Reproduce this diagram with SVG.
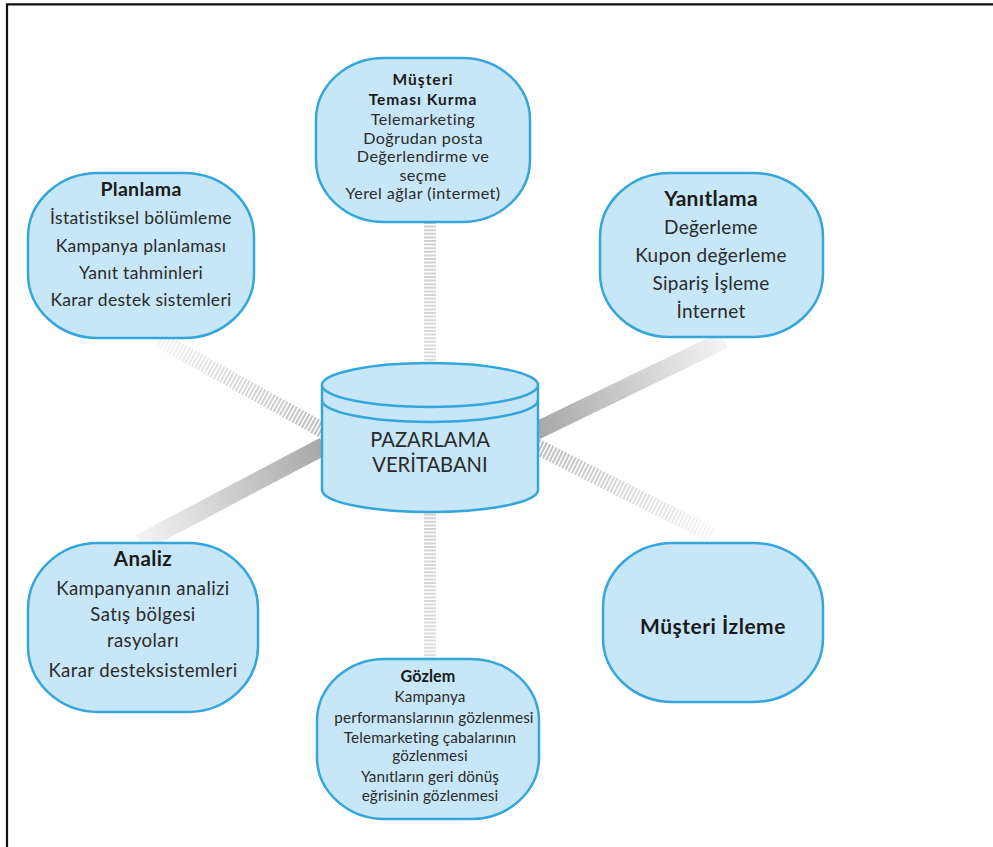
<svg xmlns="http://www.w3.org/2000/svg" width="993" height="847" viewBox="0 0 993 847">
  <style>
    .box { fill: #c7e7f8; stroke: #35a6dc; stroke-width: 2.5; }
    .t { font-family: Lato, "Open Sans", "Liberation Sans", sans-serif; fill: #2a2a2a; text-anchor: middle; }
    .h { font-weight: bold; fill: #1a1a1a; }
    .hatch { fill: none; stroke-dasharray: 2 1.6; }
    .solid { fill: none; }
  </style>
  <defs>
    <linearGradient id="gPlan" gradientUnits="userSpaceOnUse" x1="160" y1="340" x2="322" y2="430">
      <stop offset="0" stop-color="#f4f4f4"/>
      <stop offset="1" stop-color="#bdbdbd"/>
    </linearGradient>
    <linearGradient id="gAnaliz" gradientUnits="userSpaceOnUse" x1="140" y1="543" x2="322" y2="447">
      <stop offset="0" stop-color="#f4f4f4"/>
      <stop offset="1" stop-color="#a8a8a8"/>
    </linearGradient>
    <linearGradient id="gYanit" gradientUnits="userSpaceOnUse" x1="538" y1="430" x2="724" y2="340">
      <stop offset="0" stop-color="#a8a8a8"/>
      <stop offset="1" stop-color="#f4f4f4"/>
    </linearGradient>
    <linearGradient id="gIzleme" gradientUnits="userSpaceOnUse" x1="538" y1="447" x2="712" y2="535">
      <stop offset="0" stop-color="#bdbdbd"/>
      <stop offset="1" stop-color="#f6f6f6"/>
    </linearGradient>
    <linearGradient id="gTop" gradientUnits="userSpaceOnUse" x1="430" y1="222" x2="430" y2="363">
      <stop offset="0" stop-color="#cdcdcd"/>
      <stop offset="1" stop-color="#dcdcdc"/>
    </linearGradient>
    <linearGradient id="gBottom" gradientUnits="userSpaceOnUse" x1="430" y1="513" x2="430" y2="660">
      <stop offset="0" stop-color="#d0d0d0"/>
      <stop offset="1" stop-color="#dedede"/>
    </linearGradient>
  </defs>

  <rect width="993" height="847" fill="#ffffff"/>
  <!-- page frame -->
  <path d="M7 847 V4.3 H993" fill="none" stroke="#111" stroke-width="2.2"/>

  <!-- connectors: shaded bars from the database to each activity -->
  <g id="connectors">
    <line class="hatch" x1="430" y1="222" x2="430" y2="366" stroke="url(#gTop)" stroke-width="12"/>
    <line class="hatch" x1="160" y1="340" x2="324" y2="431" stroke="url(#gPlan)" stroke-width="16"/>
    <line class="solid" x1="140" y1="543" x2="324" y2="446" stroke="url(#gAnaliz)" stroke-width="18"/>
    <line class="solid" x1="536" y1="431" x2="724" y2="340" stroke="url(#gYanit)" stroke-width="18"/>
    <line class="hatch" x1="536" y1="446" x2="712" y2="535" stroke="url(#gIzleme)" stroke-width="16"/>
    <line class="hatch" x1="430" y1="510" x2="430" y2="660" stroke="url(#gBottom)" stroke-width="12"/>
  </g>

  <!-- central database cylinder -->
  <g id="veritabani">
    <path class="box" d="M322 385 V490 A108 22 0 0 0 538 490 V385"/>
    <ellipse class="box" cx="430" cy="385" rx="108" ry="22"/>
    <path d="M322 400 A108 22 0 0 0 538 400" fill="none" stroke="#35a6dc" stroke-width="2.5"/>
    <text class="t" x="430" y="447" font-size="20.2">PAZARLAMA</text>
    <text class="t" x="430" y="472" font-size="20.2">VERİTABANI</text>
  </g>

  <g id="musteri-temasi">
    <rect class="box" x="316" y="58" width="214" height="164" rx="68" ry="62"/>
    <g letter-spacing="0.4">
      <text class="t h" x="423" y="85" font-size="15.5" letter-spacing="1">Müşteri</text>
      <text class="t h" x="423" y="104.5" font-size="15.5" letter-spacing="1">Teması Kurma</text>
      <text class="t" x="423" y="125" font-size="16.2">Telemarketing</text>
      <text class="t" x="423" y="144" font-size="16.2">Doğrudan posta</text>
      <text class="t" x="423" y="162" font-size="16.2">Değerlendirme ve</text>
      <text class="t" x="423" y="181" font-size="16.2">seçme</text>
      <text class="t" x="423" y="199" font-size="16.2">Yerel ağlar (intermet)</text>
    </g>
  </g>

  <g id="planlama">
    <rect class="box" x="28" y="173" width="226" height="165" rx="70" ry="64"/>
    <g letter-spacing="0.3">
      <text class="t h" x="141" y="196" font-size="19.5">Planlama</text>
      <text class="t" x="141" y="224" font-size="17.5">İstatistiksel bölümleme</text>
      <text class="t" x="141" y="252" font-size="17.5">Kampanya planlaması</text>
      <text class="t" x="141" y="279" font-size="17.5">Yanıt tahminleri</text>
      <text class="t" x="141" y="306" font-size="17.5">Karar destek sistemleri</text>
    </g>
  </g>

  <g id="yanitlama">
    <rect class="box" x="600" y="173" width="223" height="164" rx="70" ry="64"/>
    <g letter-spacing="0.3">
      <text class="t h" x="711" y="206" font-size="21">Yanıtlama</text>
      <text class="t" x="711" y="234" font-size="19">Değerleme</text>
      <text class="t" x="711" y="262" font-size="19">Kupon değerleme</text>
      <text class="t" x="711" y="290" font-size="19">Sipariş İşleme</text>
      <text class="t" x="711" y="318" font-size="19">İnternet</text>
    </g>
  </g>

  <g id="analiz">
    <rect class="box" x="28" y="543" width="230" height="169" rx="70" ry="66"/>
    <g letter-spacing="0.4">
      <text class="t h" x="143" y="566" font-size="20.5">Analiz</text>
      <text class="t" x="143" y="595" font-size="18.6">Kampanyanın analizi</text>
      <text class="t" x="143" y="621" font-size="18.6">Satış bölgesi</text>
      <text class="t" x="143" y="647" font-size="18.6">rasyoları</text>
      <text class="t" x="143" y="677" font-size="18.6">Karar desteksistemleri</text>
    </g>
  </g>

  <g id="gozlem">
    <rect class="box" x="317" y="659" width="222" height="160" rx="68" ry="62"/>
    <g letter-spacing="0.1">
      <text class="t h" x="428" y="682" font-size="16.2">Gözlem</text>
      <text class="t" x="430" y="702" font-size="15.3">Kampanya</text>
      <text class="t" x="434" y="723" font-size="15.3">performanslarının gözlenmesi</text>
      <text class="t" x="430" y="743" font-size="15.3">Telemarketing çabalarının</text>
      <text class="t" x="430" y="761" font-size="15.3">gözlenmesi</text>
      <text class="t" x="430" y="782" font-size="15.3">Yanıtların geri dönüş</text>
      <text class="t" x="430" y="801" font-size="15.3">eğrisinin gözlenmesi</text>
    </g>
  </g>

  <g id="musteri-izleme">
    <rect class="box" x="603" y="543" width="220" height="159" rx="70" ry="64"/>
    <text class="t h" x="713" y="634" font-size="21" letter-spacing="0.5">Müşteri İzleme</text>
  </g>
</svg>
